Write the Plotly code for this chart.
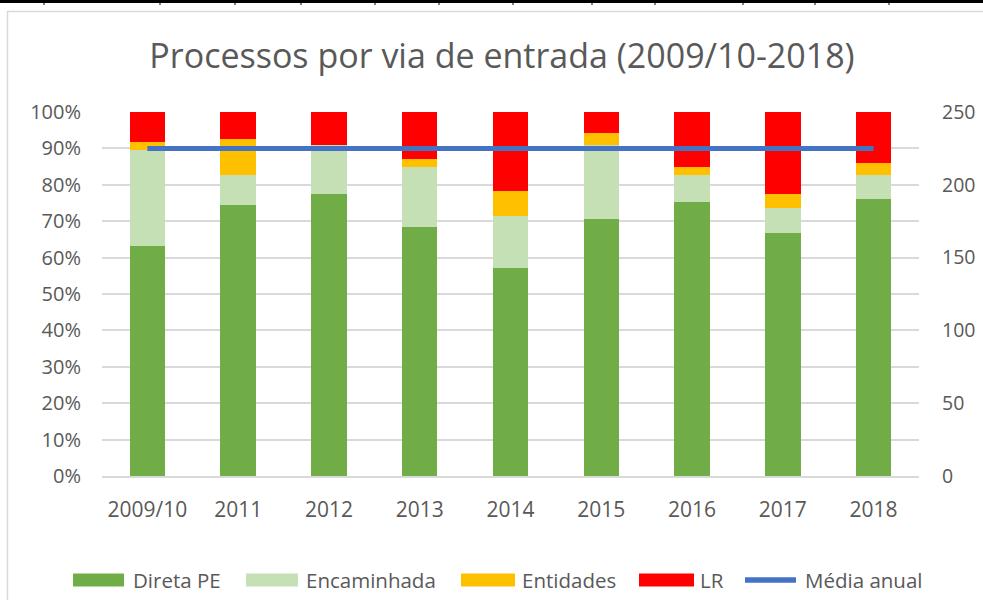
import plotly.graph_objects as go

categories = ["2009/10", "2011", "2012", "2013", "2014", "2015", "2016", "2017", "2018"]
direta_pe = [63.2, 74.4, 77.4, 68.4, 57.1, 70.6, 75.2, 66.8, 76.0]
encaminhada = [26.4, 8.3, 13.6, 16.6, 14.3, 20.4, 7.5, 6.9, 6.7]
entidades = [2.2, 9.8, 0.0, 2.2, 6.8, 3.1, 2.3, 3.7, 3.2]
lr = [8.2, 7.5, 9.0, 12.8, 21.8, 5.9, 15.0, 22.6, 14.1]
media_anual = [225, 225, 225, 225, 225, 225, 225, 225, 225]

FONT = "Open Sans"
GREY = "#595959"

W, H = 983, 600
ML, MR, MT, MB = 102, 64, 112, 124
PW, PH = W - ML - MR, H - MT - MB


def px(x):
    return (x - ML) / PW


def py(y):
    return (H - MB - y) / PH


COLORS = {
    "Direta PE": "#70AD47",
    "Encaminhada": "#C5E0B4",
    "Entidades": "#FFC000",
    "LR": "#FF0000",
    "Média anual": "#4472C4",
}

fig = go.Figure()
series = [
    ("Direta PE", direta_pe),
    ("Encaminhada", encaminhada),
    ("Entidades", entidades),
    ("LR", lr),
]
for name, vals in series:
    fig.add_trace(go.Bar(
        name=name, x=categories, y=[v / 100 for v in vals],
        marker=dict(color=COLORS[name], line=dict(width=0)),
        hoverinfo="skip", showlegend=False,
    ))

fig.add_trace(go.Scatter(
    name="Média anual", x=categories, y=media_anual, yaxis="y2",
    mode="lines", line=dict(color=COLORS["Média anual"], width=5),
    showlegend=False,
))

shapes = [
    # chart border
    dict(type="rect", xref="paper", yref="paper",
         x0=px(7.5), x1=px(995), y0=py(610), y1=py(11.5),
         line=dict(color="#D9D9D9", width=1.5), layer="below"),
    # top spreadsheet line
    dict(type="line", xref="paper", yref="paper",
         x0=px(0), x1=px(983), y0=py(1.5), y1=py(1.5),
         line=dict(color="black", width=3)),
]
for tx in [44, 160, 235, 301, 375, 439, 513, 592, 655, 743, 815, 889]:
    shapes.append(dict(type="line", xref="paper", yref="paper",
                       x0=px(tx), x1=px(tx), y0=py(0), y1=py(5),
                       line=dict(color="black", width=1)))

# custom legend (swatch extents in pixels, text start)
legend_items = [
    ("Direta PE", 73, 124, 131, "bar"),
    ("Encaminhada", 246, 298, 304, "bar"),
    ("Entidades", 461, 515, 520, "bar"),
    ("LR", 639, 694, 698, "bar"),
    ("Média anual", 742, 799, 803, "line"),
]
annotations = []
LY = 580
for name, s0, s1, tx, kind in legend_items:
    if kind == "bar":
        shapes.append(dict(type="rect", xref="paper", yref="paper",
                           x0=px(s0), x1=px(s1), y0=py(LY + 6.5), y1=py(LY - 6.5),
                           fillcolor=COLORS[name], line=dict(width=0)))
    else:
        shapes.append(dict(type="line", xref="paper", yref="paper",
                           x0=px(s0 + 3), x1=px(s1 - 3), y0=py(LY), y1=py(LY),
                           line=dict(color=COLORS[name], width=5.5)))
    annotations.append(dict(text=name, xref="paper", yref="paper",
                            x=px(tx), y=py(LY), xanchor="left", yanchor="middle",
                            showarrow=False,
                            font=dict(size=20.5, color=GREY, family=FONT)))

fig.update_layout(
    width=W, height=H,
    margin=dict(l=ML, r=MR, t=MT, b=MB, autoexpand=False),
    paper_bgcolor="white", plot_bgcolor="white",
    barmode="stack", bargap=0.61,
    font=dict(family=FONT, color=GREY, size=20),
    title=dict(text="Processos por via de entrada (2009/10-2018)",
               x=px(502), xref="paper", xanchor="center",
               y=1 - 56 / H, yref="container", yanchor="middle",
               font=dict(size=34, color=GREY, family=FONT)),
    xaxis=dict(type="category", showgrid=False, showline=True,
               linecolor="#D9D9D9", linewidth=1.5, ticks="",
               automargin=False,
               ticklabelstandoff=14, tickfont=dict(size=21, color=GREY)),
    yaxis=dict(range=[0, 1], dtick=0.1, tickformat=".0%",
               showgrid=True, gridcolor="#D9D9D9", gridwidth=1.5,
               zeroline=False, showline=False, ticks="", automargin=False,
               ticklabelstandoff=20, tickfont=dict(size=20, color=GREY)),
    yaxis2=dict(range=[0, 250], dtick=50, overlaying="y", side="right",
                showgrid=False, zeroline=False, showline=False, ticks="",
                automargin=False,
                ticklabelstandoff=22, tickfont=dict(size=19.5, color=GREY)),
    shapes=shapes,
    annotations=annotations,
    showlegend=False,
)

fig.write_html("out.html",
               config={"displayModeBar": False},
               post_script="document.body.style.margin='0px';")
